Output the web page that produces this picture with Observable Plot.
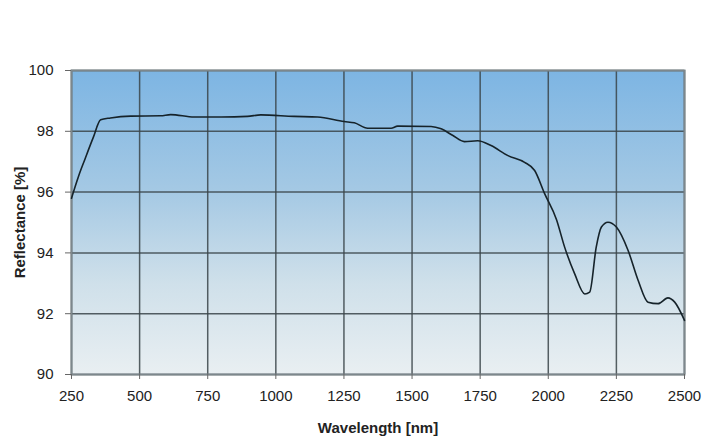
<!DOCTYPE html>
<html><head><meta charset="utf-8">
<script src="https://cdn.jsdelivr.net/npm/d3@7"></script>
<script src="https://cdn.jsdelivr.net/npm/@observablehq/plot@0.6"></script>
<style>body{margin:0;background:#fff;} svg{display:block}</style>
</head><body><div id="chart"></div>
<script>
const wavelength = [250, 275, 300, 330, 357, 393, 467, 577, 614, 700, 800, 896, 945, 1067, 1153, 1251, 1288, 1337, 1423, 1447, 1570, 1607, 1650, 1692, 1741, 1790, 1852, 1913, 1950, 1987, 2030, 2060, 2097, 2134, 2152, 2176, 2195, 2219, 2250, 2293, 2330, 2366, 2403, 2439, 2464, 2500];
const reflectance = [95.8, 96.5, 97.1, 97.8, 98.38, 98.44, 98.50, 98.51, 98.55, 98.47, 98.47, 98.49, 98.54, 98.49, 98.47, 98.32, 98.28, 98.10, 98.10, 98.17, 98.16, 98.08, 97.86, 97.66, 97.69, 97.53, 97.20, 96.98, 96.71, 95.94, 95.1, 94.19, 93.31, 92.65, 92.71, 94.19, 94.85, 95.01, 94.85, 94.08, 93.09, 92.38, 92.33, 92.52, 92.38, 91.78];
const xTicks = [250, 500, 750, 1000, 1250, 1500, 1750, 2000, 2250, 2500];
const yTicks = [90, 92, 94, 96, 98, 100];
const xLabel = "Wavelength [nm]";
const yLabel = "Reflectance [%]";

const data = wavelength.map((w, i) => ({w, r: reflectance[i]}));

const plot = Plot.plot({
  width: 702, height: 439,
  marginTop: 70, marginBottom: 65, marginLeft: 71, marginRight: 18,
  style: {fontFamily: "'Liberation Sans', Arial, sans-serif", fontSize: "15px", color: "#222", background: "#fff"},
  x: {domain: [250, 2500]},
  y: {domain: [90, 100]},
  marks: [
    Plot.frame({fill: "url(#bg)", stroke: "none"}),
    Plot.gridX(xTicks, {stroke: "#3a4449", strokeOpacity: 0.85, strokeWidth: 1.5}),
    Plot.gridY(yTicks, {stroke: "#3a4449", strokeOpacity: 0.85, strokeWidth: 1.5}),
    Plot.frame({stroke: "#7d878c", strokeWidth: 2}),
    Plot.axisX(xTicks, {tickSize: 5, tickPadding: 11, label: null, tickFormat: d => String(d), stroke: "#666", fontSize: 15}),
    Plot.axisY(yTicks, {tickSize: 6, tickPadding: 12, label: null, tickFormat: d => String(d), stroke: "#666", fontSize: 15}),
    Plot.line(data, {x: "w", y: "r", stroke: "#16232a", strokeWidth: 1.6, curve: "monotone-x"}),
    Plot.text([xLabel], {text: d => d, frameAnchor: "bottom", textAnchor: "middle", lineAnchor: "middle", dy: 54, fontWeight: "bold", fontSize: 15, fill: "#222"}),
    Plot.text([yLabel], {text: d => d, frameAnchor: "left", textAnchor: "middle", lineAnchor: "middle", dx: -51, rotate: -90, fontWeight: "bold", fontSize: 15, fill: "#222"})
  ]
});

d3.select(plot).insert("defs", ":first-child").html(`
  <linearGradient id="bg" x1="0" y1="0" x2="0" y2="1">
    <stop offset="0" stop-color="#7db5e3"/>
    <stop offset="0.4" stop-color="#a5c9e4"/>
    <stop offset="0.7" stop-color="#cfe0ea"/>
    <stop offset="1" stop-color="#e9eff2"/>
  </linearGradient>`);

document.getElementById("chart").appendChild(plot);
</script>
</body></html>
